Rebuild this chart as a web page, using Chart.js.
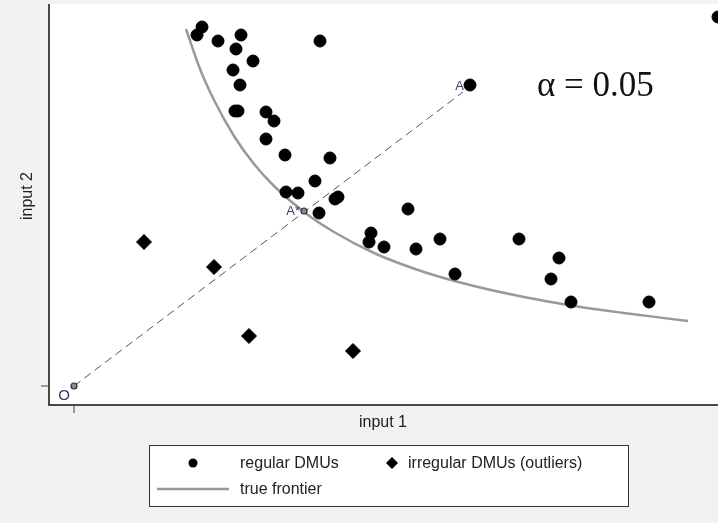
<!DOCTYPE html>
<html lang="en">
<head>
<meta charset="UTF-8">
<title>true frontier</title>
<script src="https://cdn.jsdelivr.net/npm/chart.js"></script>
<style>
  html, body { margin: 0; padding: 0; background: #f1f2f2; }
  #chart { display: block; }
</style>
</head>
<body>
<canvas id="chart" width="718" height="523"></canvas>
<script>
// regular DMUs (input 1, input 2)
var regularX = [128, 123, 144, 167, 162, 179, 159, 166, 161, 164, 192, 200, 192, 211, 256, 246, 241, 212, 224, 261, 264, 245, 396, 644, 334, 297, 295, 310, 342, 366, 381, 445, 485, 477, 497, 575];
var regularY = [359, 351, 345, 351, 337, 325, 316, 301, 275, 275, 274, 265, 247, 231, 228, 345, 205, 194, 193, 187, 189, 173, 301, 369, 177, 153, 144, 139, 137, 147, 112, 147, 128, 107, 84, 84];

// irregular DMUs (outliers)
var outlierX = [70, 140, 175, 279];
var outlierY = [144, 119, 50, 35];

// true frontier
var frontierX = [112, 126, 140, 160, 180, 200, 230, 260, 300, 350, 400, 450, 500, 550, 614];
var frontierY = [357, 317, 286, 250, 222, 200, 174, 154, 133, 114, 100, 89, 80, 73, 65];

// ray from origin O through A* to A
var rayX = [0, 389];
var rayY = [0, 294];
var starX = [230];
var starY = [175];

var toPoints = function (xs, ys) {
    return xs.map(function (x, i) { return { x: x, y: ys[i] }; });
};

var decor = {
    id: 'decor',
    beforeDraw: function (chart) {
        var ctx = chart.ctx, a = chart.chartArea;
        ctx.save();
        ctx.fillStyle = '#f1f2f2';
        ctx.fillRect(0, 0, chart.width, chart.height);
        ctx.fillStyle = '#ffffff';
        ctx.fillRect(a.left, a.top, a.right - a.left, a.bottom - a.top);
        ctx.restore();
    },
    afterDraw: function (chart) {
        var ctx = chart.ctx, a = chart.chartArea;
        var xs = chart.scales.x, ys = chart.scales.y;
        var x0 = xs.getPixelForValue(0), y0 = ys.getPixelForValue(0);
        ctx.save();

        // axes
        ctx.strokeStyle = '#111';
        ctx.lineWidth = 1.5;
        ctx.beginPath();
        ctx.moveTo(a.left, a.top);
        ctx.lineTo(a.left, a.bottom);
        ctx.lineTo(a.right, a.bottom);
        ctx.stroke();

        // ticks at 0
        ctx.strokeStyle = '#444';
        ctx.lineWidth = 1;
        ctx.beginPath();
        ctx.moveTo(x0, a.bottom + 1);
        ctx.lineTo(x0, a.bottom + 8);
        ctx.moveTo(a.left - 1, y0);
        ctx.lineTo(a.left - 8, y0);
        ctx.stroke();

        // axis titles
        ctx.fillStyle = '#222';
        ctx.font = '16px "Liberation Sans", Arial, sans-serif';
        ctx.textAlign = 'center';
        ctx.textBaseline = 'middle';
        ctx.fillText('input 1', 383, 423);
        ctx.save();
        ctx.translate(28, 196);
        ctx.rotate(-Math.PI / 2);
        ctx.fillText('input 2', 0, 0);
        ctx.restore();

        // point labels
        ctx.fillStyle = '#34405e';
        ctx.font = '15px "Liberation Sans", Arial, sans-serif';
        ctx.textAlign = 'right';
        ctx.fillText('O', x0 - 4, y0 + 10);
        ctx.font = '13px "Liberation Sans", Arial, sans-serif';
        ctx.fillText('A*', xs.getPixelForValue(starX[0]) - 4, ys.getPixelForValue(starY[0]));
        ctx.fillText('A', xs.getPixelForValue(rayX[1]) + 1, ys.getPixelForValue(rayY[1]) - 6);

        // alpha
        ctx.fillStyle = '#111';
        ctx.font = '35px "Liberation Serif", "DejaVu Serif", serif';
        ctx.textAlign = 'left';
        ctx.textBaseline = 'alphabetic';
        ctx.fillText('\u03b1 = 0.05', 537, 96);

        // legend
        ctx.fillStyle = '#ffffff';
        ctx.fillRect(149.5, 445.5, 479, 61);
        ctx.strokeStyle = '#333';
        ctx.lineWidth = 1;
        ctx.strokeRect(149.5, 445.5, 479, 61);

        ctx.fillStyle = '#000';
        ctx.beginPath();
        ctx.arc(193, 463, 4.5, 0, Math.PI * 2);
        ctx.fill();
        ctx.beginPath();
        ctx.moveTo(392, 457);
        ctx.lineTo(398, 463);
        ctx.lineTo(392, 469);
        ctx.lineTo(386, 463);
        ctx.closePath();
        ctx.fill();
        ctx.strokeStyle = '#999';
        ctx.lineWidth = 2.5;
        ctx.beginPath();
        ctx.moveTo(157, 489);
        ctx.lineTo(229, 489);
        ctx.stroke();

        ctx.fillStyle = '#222';
        ctx.font = '16px "Liberation Sans", Arial, sans-serif';
        ctx.textBaseline = 'middle';
        ctx.fillText('regular DMUs', 240, 464);
        ctx.fillText('irregular DMUs (outliers)', 408, 464);
        ctx.fillText('true frontier', 240, 490);

        ctx.restore();
    }
};

new Chart(document.getElementById('chart').getContext('2d'), {
    type: 'scatter',
    data: {
        datasets: [
            {
                label: 'true frontier',
                type: 'line',
                data: toPoints(frontierX, frontierY),
                borderColor: '#999999',
                borderWidth: 2.5,
                pointRadius: 0,
                tension: 0.4,
                cubicInterpolationMode: 'monotone',
                fill: false,
                order: 3
            },
            {
                label: 'ray',
                type: 'line',
                data: toPoints(rayX, rayY),
                borderColor: '#555555',
                borderWidth: 1,
                borderDash: [8, 5],
                pointRadius: 0,
                fill: false,
                order: 4
            },
            {
                label: 'regular DMUs',
                data: toPoints(regularX, regularY),
                backgroundColor: '#000',
                borderColor: '#000',
                pointRadius: 6,
                pointStyle: 'circle',
                order: 1
            },
            {
                label: 'irregular DMUs (outliers)',
                data: toPoints(outlierX, outlierY),
                backgroundColor: '#000',
                borderColor: '#000',
                pointRadius: 7.5,
                pointStyle: 'rectRot',
                order: 1
            },
            {
                label: 'O and A*',
                data: toPoints([rayX[0], starX[0]], [rayY[0], starY[0]]),
                backgroundColor: '#888',
                borderColor: '#333',
                borderWidth: 1.2,
                pointRadius: 3,
                order: 0
            }
        ]
    },
    options: {
        responsive: false,
        animation: false,
        devicePixelRatio: 1,
        layout: { autoPadding: false, padding: { left: 49, top: 4, right: 0, bottom: 118 } },
        scales: {
            x: { type: 'linear', display: false, min: -25, max: 644 },
            y: { type: 'linear', display: false, min: -19, max: 382 }
        },
        plugins: {
            legend: { display: false },
            tooltip: { enabled: false }
        }
    },
    plugins: [decor]
});
</script>
</body>
</html>
